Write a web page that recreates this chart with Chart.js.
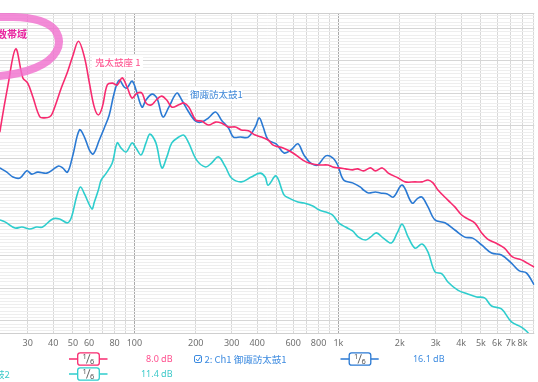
<!DOCTYPE html>
<html><head><meta charset="utf-8">
<script src="https://cdn.jsdelivr.net/npm/chart.js@4.4.1/dist/chart.umd.min.js"></script>
<style>html,body{margin:0;padding:0;background:#fff;overflow:hidden}canvas{display:block}</style>
</head><body>
<canvas id="c" width="538" height="382"></canvas>
<script>
// [frequency Hz, level dB]
const oniTaikoza1 = [[21.3,52],[21.9,58.1],[24.0,72.5],[26.2,83.7],[28.4,74.8],[30.0,73.2],[31.8,68.9],[34.4,62.8],[36.3,62.5],[38.4,62.8],[39.7,64.0],[44.0,72.0],[47.0,76.6],[49.7,81.2],[53.2,86.1],[56.9,81.2],[60.2,73.2],[63.6,65.8],[66.6,63.4],[69.6,65.8],[73.6,72.6],[77.9,73.2],[82.4,72.6],[87.1,74.8],[92.1,72.0],[97.4,68.6],[103,70.1],[109,70.1],[114,67.1],[121,66.5],[128,68.0],[136,69.2],[144,68.0],[153,65.8],[165,66.5],[175,67.1],[185,65.8],[200,61.8],[214,61.5],[231,60.3],[250,61.2],[267,60.9],[289,59.7],[313,59.7],[334,58.8],[362,58.5],[391,57.2],[419,56.6],[453,55.7],[479,54.1],[536,53.2],[599,51.7],[670,49.5],[717,48.6],[802,48.0],[887,48.0],[938,47.4],[1003,47.1],[1085,46.8],[1174,46.5],[1241,46.8],[1328,46.2],[1436,47.1],[1519,46.2],[1643,47.1],[1757,45.5],[1966,44.0],[2126,42.8],[2378,42.8],[2572,42.8],[2751,43.4],[2910,42.5],[3078,40.3],[3444,37.2],[3724,35.1],[4027,32.6],[4308,31.4],[4660,30.2],[5039,27.1],[5390,25.2],[6030,23.7],[6522,22.4],[7134,19.7],[7892,18.8],[8440,17.8],[9130,16.6]];
const suwaTaiko1 = [[21.9,47.1],[23.7,45.8],[25.4,44.3],[27.5,44.0],[29.7,46.2],[31.4,45.2],[33.6,45.8],[37.2,45.5],[39.7,46.5],[42.5,47.7],[44.5,47.1],[47.0,45.8],[49.7,50.5],[53.8,58.8],[56.9,56.6],[60.2,52.6],[62.9,51.4],[67.3,55.7],[71.2,59.4],[75.3,63.4],[79.6,70.1],[84.2,74.1],[89.1,72.0],[92.1,71.7],[97.4,73.8],[101.9,71.1],[109,65.8],[114,68.0],[122,69.8],[129,68.6],[138,62.8],[147.6,65.8],[161.4,70.1],[170.7,68.0],[184.6,64.3],[199.7,61.5],[213.5,61.2],[231,62.5],[249.9,64.3],[267.3,61.8],[289.2,59.4],[305.9,56.6],[330.7,56.6],[361.7,56.6],[391.3,59.7],[409.3,62.5],[428,59.7],[452.7,55.7],[495.1,54.5],[541.5,51.7],[585.6,52.6],[633.5,54.5],[677.6,51.1],[732.9,48.6],[792.7,48.0],[867.2,50.8],[937.9,50.2],[992,48.0],[1061,43.4],[1174,42.5],[1284,41.2],[1328,40.3],[1404,39.4],[1519,39.7],[1606,39.4],[1738,39.1],[1858,38.1],[2056,41.8],[2299,36.3],[2459,37.8],[2572,38.1],[2751,35.1],[2976,31.1],[3330,30.2],[3724,28.0],[4165,25.8],[4556,25.5],[5039,23.4],[5637,20.9],[6306,20.3],[7055,17.8],[7717,15.4],[8346,14.8],[9130,11.1]];
const suwaTaiko2 = [[21.9,31.1],[23.2,30.5],[26.0,28.6],[28.1,28.9],[30.7,28.3],[33.2,28.9],[35.5,28.9],[39.7,31.4],[43.0,31.4],[47.0,30.2],[49.2,32.0],[52.0,38.1],[54.4,41.2],[57.0,39.0],[61.9,34.5],[63.6,36.5],[66.6,40.3],[68.8,43.4],[72.8,45.5],[77.9,48.6],[82.4,54.8],[86.1,53.2],[91.1,52.0],[97.4,54.8],[101.9,53.2],[107.8,51.1],[114,54.8],[119.2,57.5],[127.5,54.8],[136.4,47.1],[144.3,50.5],[152.6,54.8],[165.1,56.6],[174.6,57.2],[184.6,54.8],[202,49.5],[223.4,47.4],[238.9,48.6],[258.4,50.5],[279.6,47.4],[299.1,44.0],[334.4,42.8],[374.1,44.3],[413.9,45.5],[437.7,44.3],[452.7,41.8],[495.1,44.6],[541.5,38.8],[572.7,37.8],[633.5,36.6],[677.6,36.3],[749.5,35.4],[801.6,34.2],[867.2,33.5],[937.9,32.6],[1003,30.2],[1085,28.9],[1174,27.7],[1255,25.8],[1358,24.9],[1436,25.8],[1536,27.1],[1661,25.5],[1817,24.0],[1944,27.1],[2056,29.8],[2199,25.8],[2378,22.4],[2572,23.7],[2751,21.2],[2976,15.1],[3219,14.5],[3444,12.0],[3851,9.5],[4308,8.3],[4766,7.4],[5212,7.1],[5637,4.6],[6306,3.7],[7055,-0.3],[7892,-1.9],[8440,-3.4],[9130,-6]];

const gridFreqs = [30,40,50,60,70,80,90,100,200,300,400,500,600,700,800,900,1000,2000,3000,4000,5000,6000,7000,8000,9000];
const tickLabels = ['30','40','50','60','','80','','100','200','300','400','','600','','800','','1k','2k','3k','4k','5k','6k','7k','8k',''];
const seriesNames = ['鬼太鼓座 1','御諏訪太鼓1','御諏訪太鼓2'];
const legendRows = ['','2: Ch1 御諏訪太鼓1','3: Ch1 御諏訪太鼓2'];
const smoothing = ['1/6','1/6','1/6'];
const levels = ['8.0 dB','16.1 dB','11.4 dB'];
const bandNote = '低周波数帯域';
const freqMin = 21.94, freqMax = 9130, dbMin = -3.7, dbMax = 94.77;

const PINK = '#f72a6f', BLUE = '#2a79d3', CYAN = '#2ecdcd';
const toXY = a => a.map(p => ({x:p[0], y:p[1]}));
const cjk = '"Noto Sans CJK JP", "Noto Sans", sans-serif';

function fracBox(ctx, xl, xr, yc, color){
  ctx.save();
  ctx.strokeStyle = color; ctx.lineWidth = 1.5;
  ctx.beginPath(); ctx.moveTo(xl, yc); ctx.lineTo(xr, yc); ctx.stroke();
  const bx = xl + 8.7, bw = 21.6, bh = 12.4, by = yc - bh/2;
  ctx.fillStyle = '#fff'; ctx.lineWidth = 1.3;
  ctx.beginPath(); ctx.roundRect(bx, by, bw, bh, 2.5); ctx.fill(); ctx.stroke();
  ctx.fillStyle = '#555'; ctx.font = '7.5px "Noto Sans", sans-serif';
  ctx.textAlign = 'center'; ctx.textBaseline = 'middle';
  ctx.fillText('1', bx + 7, yc - 2);
  ctx.fillText('6', bx + 14.5, yc + 2.5);
  ctx.strokeStyle = '#555'; ctx.lineWidth = 0.9;
  ctx.beginPath(); ctx.moveTo(bx + 8.8, yc + 4.5); ctx.lineTo(bx + 12.2, yc - 4.8); ctx.stroke();
  ctx.restore();
}

const overlay = {
  id: 'overlay',
  afterDatasetsDraw(chart){
    const ctx = chart.ctx;
    ctx.save();
    ctx.strokeStyle = 'rgba(240,110,205,0.8)'; ctx.lineWidth = 8; ctx.lineCap = 'round';
    ctx.beginPath();
    ctx.moveTo(-40, 22);
    ctx.bezierCurveTo(-10, 16, 40, 12, 55, 30);
    ctx.bezierCurveTo(65, 45, 55, 60, 35, 68);
    ctx.bezierCurveTo(15, 76, -20, 80, -40, 74);
    ctx.stroke();
    ctx.fillStyle = '#e8239e'; ctx.font = 'bold 10px ' + cjk;
    ctx.textAlign = 'right'; ctx.textBaseline = 'middle';
    ctx.fillText(bandNote, 27, 34);
    ctx.textAlign = 'left';
    ctx.font = '9.5px ' + cjk;
    ctx.fillStyle = '#fff'; ctx.fillRect(92, 55, 51, 15);
    ctx.fillStyle = '#ff4a8a'; ctx.fillText(seriesNames[0], 95, 62);
    ctx.fillStyle = '#fff'; ctx.fillRect(188, 87, 54, 14);
    ctx.fillStyle = '#3d87d8'; ctx.fillText(seriesNames[1], 190, 94);
    ctx.restore();
  },
  afterDraw(chart){
    const ctx = chart.ctx;
    ctx.save();
    const r1 = 359, r2 = 374;
    fracBox(ctx, 69, 107.5, r1, PINK);
    fracBox(ctx, 69, 107.5, r2, CYAN);
    fracBox(ctx, 340.5, 378.7, r1, BLUE);
    ctx.textBaseline = 'middle'; ctx.textAlign = 'right';
    ctx.font = '9px "Noto Sans", sans-serif';
    ctx.fillStyle = '#ff4d8d'; ctx.fillText(levels[0], 172.5, r1);
    ctx.fillStyle = '#3cc9c9'; ctx.fillText(levels[2], 172.5, r2);
    ctx.fillStyle = '#3d8be0'; ctx.fillText(levels[1], 444.5, r1);
    ctx.strokeStyle = '#3d8be0'; ctx.lineWidth = 1;
    ctx.beginPath(); ctx.roundRect(194.5, 355.5, 7, 7, 1.5); ctx.stroke();
    ctx.beginPath(); ctx.moveTo(196, 359); ctx.lineTo(197.8, 361); ctx.lineTo(200.5, 356.8); ctx.stroke();
    ctx.font = '9.5px ' + cjk;
    ctx.textAlign = 'left'; ctx.fillStyle = '#3d8be0';
    ctx.fillText(legendRows[1], 204.5, r1);
    ctx.textAlign = 'right'; ctx.fillStyle = '#3cc9c9';
    ctx.fillText(legendRows[2], 9.8, r2);
    ctx.restore();
  }
};

new Chart(document.getElementById('c'), {
  type: 'line',
  data: {
    datasets: [
      {label: seriesNames[0], data: toXY(oniTaikoza1), borderColor: PINK},
      {label: seriesNames[1], data: toXY(suwaTaiko1), borderColor: BLUE},
      {label: seriesNames[2], data: toXY(suwaTaiko2), borderColor: CYAN}
    ]
  },
  options: {
    responsive: false, animation: false, devicePixelRatio: 1,
    layout: {padding: {top: 13, left: 0, right: 0, bottom: 0}},
    elements: {point: {radius: 0}, line: {borderWidth: 1.6, tension: 0.35, fill: false}},
    plugins: {legend: {display: false}, tooltip: {enabled: false}},
    scales: {
      x: {
        type: 'logarithmic', min: freqMin, max: freqMax,
        afterBuildTicks: s => { s.ticks = gridFreqs.map(v => ({value: v})); },
        afterFit: s => { s.height = 49; },
        border: {display: false},
        grid: {drawTicks: false, lineWidth: 1,
          color: c => (c.tick && (c.tick.value === 100 || c.tick.value === 1000)) ? '#a9a9a9' : '#d8d8d8'},
        ticks: {autoSkip: false, maxRotation: 0, padding: 5, color: '#707070',
          font: {family: '"Noto Sans", sans-serif', size: 9},
          callback: (v, i) => tickLabels[i]}
      },
      y: {
        type: 'linear', min: dbMin, max: dbMax,
        afterBuildTicks: s => {
          const t = [{value: dbMin}];
          for (let v = Math.ceil(dbMin); v <= Math.floor(dbMax); v++) t.push({value: v});
          t.push({value: dbMax});
          s.ticks = t;
        },
        afterFit: s => { s.width = 0; },
        border: {display: false},
        ticks: {display: false},
        grid: {drawTicks: false, lineWidth: 1,
          color: c => {
            const v = c.tick ? c.tick.value : 0;
            if (v === dbMin || v === dbMax) return '#cfcfcf';
            return (v % 10 === 0) ? '#d6d6d6' : '#eeeeee';
          }}
      }
    }
  },
  plugins: [overlay]
});
</script>
</body></html>
